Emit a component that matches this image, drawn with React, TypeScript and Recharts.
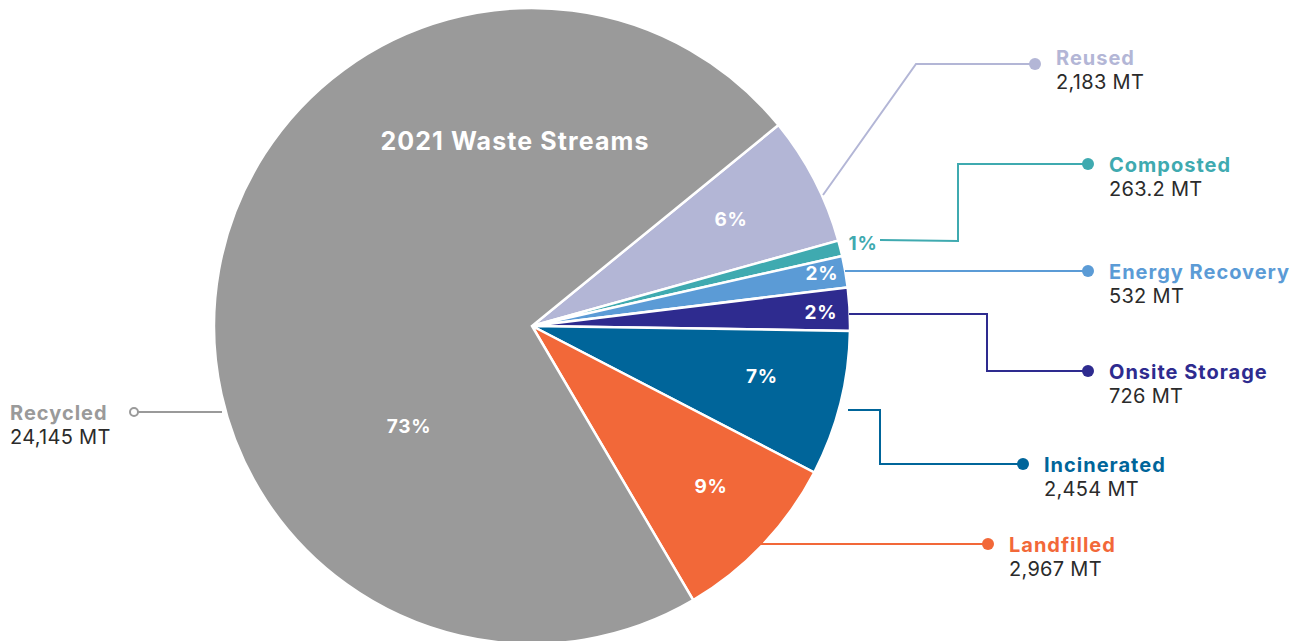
import React from "react";
import { PieChart, Pie, Cell } from "recharts";

// ---- data ----
const categories = ["Reused", "Composted", "Energy Recovery", "Onsite Storage", "Incinerated", "Landfilled", "Recycled"];
const tonnes = [2183, 263.2, 532, 726, 2454, 2967, 24145];
const valueLabels = ["2,183 MT", "263.2 MT", "532 MT", "726 MT", "2,454 MT", "2,967 MT", "24,145 MT"];
const percentLabels = ["6%", "1%", "2%", "2%", "7%", "9%", "73%"];
const title = "2021 Waste Streams";

// ---- styles ----
const colors = ["#B3B6D6", "#3FAAB0", "#5B9BD6", "#2E2B8F", "#00659A", "#F26839", "#9A9A9A"];
const FONT = "Inter, 'Open Sans', sans-serif";

// label layout, offsets relative to pie centre
const pctOffsets: [number, number][] = [
  [199, -107], [331, -83], [290, -53], [289, -14], [230, 50], [179, 160], [-123, 100],
];
const pctColors = ["#fff", "#3FAAB0", "#fff", "#fff", "#fff", "#fff", "#fff"];
const connectors: [number, number][][] = [
  [[291, -131], [384, -262], [503, -262]],
  [[348, -86], [426, -85], [426, -162], [556, -162]],
  [[313, -55], [556, -55]],
  [[317, -12], [455, -12], [455, 45], [556, 45]],
  [[316, 84], [348, 84], [348, 138], [491, 138]],
  [[227, 218], [456, 218]],
  [[-310, 86], [-394, 86]],
];
const textShift = [-7, 0, 0, 0, 0, 0, 0];

const data = categories.map((name, i) => ({ name, value: tonnes[i] }));

const renderLabel = (props: any) => {
  const { cx, cy, index } = props;
  const i = index as number;
  const [px, py] = pctOffsets[i];
  const pts = connectors[i];
  const path = pts.map((p, k) => `${k === 0 ? "M" : "L"}${cx + p[0]},${cy + p[1]}`).join(" ");
  const end = pts[pts.length - 1];
  const dotX = cx + end[0];
  const dotY = cy + end[1];
  const isLeft = i === 6;
  const tx = isLeft ? cx - 522 : dotX + 21;
  const ty = dotY + textShift[i];
  return (
    <g key={`lbl-${i}`}>
      <path d={path} stroke={colors[i]} strokeWidth={2} fill="none" />
      {isLeft ? (
        <circle cx={dotX - 4} cy={dotY} r={4} fill="#fff" stroke={colors[i]} strokeWidth={2} />
      ) : (
        <circle cx={dotX} cy={dotY} r={6} fill={colors[i]} />
      )}
      <text x={tx} y={ty + 8} fill={colors[i]} fontFamily={FONT} fontWeight={700} fontSize={20} letterSpacing={1} textAnchor="start">
        {categories[i]}
      </text>
      <text x={tx} y={ty + 32} fill="#2B2B2B" fontFamily={FONT} fontWeight={400} fontSize={20} letterSpacing={0.3} textAnchor="start">
        {valueLabels[i]}
      </text>
      <text
        x={cx + px}
        y={cy + py}
        fill={pctColors[i]}
        fontFamily={FONT}
        fontWeight={700}
        fontSize={19}
        letterSpacing={0.8}
        textAnchor="middle"
        dominantBaseline="central"
      >
        {percentLabels[i]}
      </text>
      {isLeft ? (
        <text x={cx - 17} y={cy - 185} fill="#fff" fontFamily={FONT} fontWeight={700} fontSize={25} letterSpacing={1.1} textAnchor="middle" dominantBaseline="central">
          {title}
        </text>
      ) : null}
    </g>
  );
};

export default function App() {
  return (
    <div style={{ position: "absolute", left: 0, top: 0, width: 1304, height: 641, background: "#fff" }}>
      <PieChart width={1304} height={641} margin={{ top: 0, right: 0, bottom: 0, left: 0 }}>
        <Pie
          data={data}
          dataKey="value"
          nameKey="name"
          cx={532}
          cy={326}
          outerRadius={318}
          innerRadius={0}
          startAngle={39.2}
          endAngle={-320.8}
          stroke="#fff"
          strokeWidth={2.5}
          isAnimationActive={false}
          label={renderLabel}
          labelLine={false}
        >
          {data.map((d, i) => (
            <Cell key={d.name} fill={colors[i]} />
          ))}
        </Pie>
      </PieChart>
    </div>
  );
}
